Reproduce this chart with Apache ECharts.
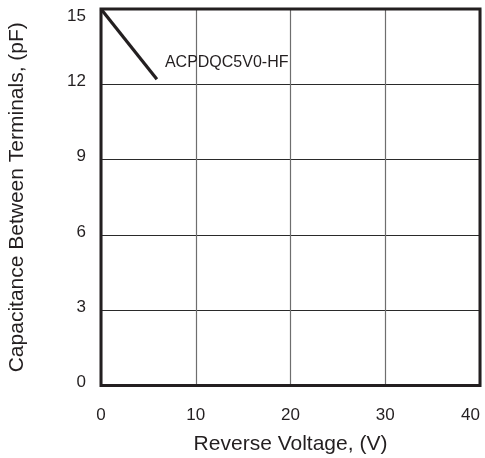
<!DOCTYPE html>
<html>
<head>
<meta charset="utf-8">
<style>
  html, body { margin: 0; padding: 0; background: #ffffff; }
  #chart { width: 485px; height: 458px; }
</style>
<script src="https://cdn.jsdelivr.net/npm/echarts@6/dist/echarts.min.js"></script>
</head>
<body>
<div id="chart"></div>
<script>
// ---- data ----
const seriesName = 'ACPDQC5V0-HF';
const voltage = [0, 5.9];          // Reverse Voltage (V)
const capacitance = [15, 12.2];    // Capacitance (pF)
const xTicks = [0, 10, 20, 30, 40];
const yTicks = [0, 3, 6, 9, 12, 15];
const xTitle = 'Reverse Voltage, (V)';
const yTitle = 'Capacitance Between Terminals, (pF)';

const dark = '#231f20';
const font = 'Liberation Sans, Arial, Helvetica, sans-serif';

const lineData = voltage.map((v, i) => [v, capacitance[i]]);

const chart = echarts.init(document.getElementById('chart'), null, { renderer: 'canvas' });
chart.setOption({
  animation: false,
  backgroundColor: '#ffffff',
  grid: {
    left: 101, right: 5, top: 9, bottom: 72.5,
    outerBoundsMode: 'none', containLabel: false,
    show: true, borderColor: dark, borderWidth: 3, backgroundColor: 'transparent',
    z: 3
  },
  xAxis: {
    type: 'value',
    min: xTicks[0], max: xTicks[xTicks.length - 1], interval: 10,
    name: xTitle, nameLocation: 'middle', nameGap: 48,
    nameTextStyle: { color: dark, fontFamily: font, fontSize: 21 },
    axisLine: { show: false },
    axisTick: { show: false },
    axisLabel: { color: dark, fontFamily: font, fontSize: 17, margin: 21, alignMaxLabel: 'right' },
    splitLine: { show: true, lineStyle: { color: '#6e6e6e', width: 1.2 } }
  },
  yAxis: {
    type: 'value',
    min: yTicks[0], max: yTicks[yTicks.length - 1], interval: 3,
    name: yTitle, nameLocation: 'middle', nameGap: 73, nameRotate: 90,
    nameTextStyle: { color: dark, fontFamily: font, fontSize: 21 },
    axisLine: { show: false },
    axisTick: { show: false },
    axisLabel: {
      color: dark, fontFamily: font, fontSize: 17, margin: 15,
      formatter: function (v) { return v === 15 ? '{top|15}' : '{n|' + v + '}'; },
      rich: {
        top: { fontFamily: font, fontSize: 17, color: dark, padding: [14, 0, 0, 0] },
        n: { fontFamily: font, fontSize: 17, color: dark, padding: [0, 0, 6, 0] }
      }
    },
    splitLine: { show: true, lineStyle: { color: '#2a2a2a', width: 1.2 } }
  },
  series: [{
    name: seriesName,
    type: 'line',
    data: lineData,
    symbol: 'none',
    lineStyle: { color: dark, width: 3.2 },
    endLabel: {
      show: true,
      formatter: seriesName,
      offset: [0, -17],
      distance: 8,
      color: dark,
      fontFamily: font,
      fontSize: 16
    },
    z: 4
  }]
});
</script>
</body>
</html>
